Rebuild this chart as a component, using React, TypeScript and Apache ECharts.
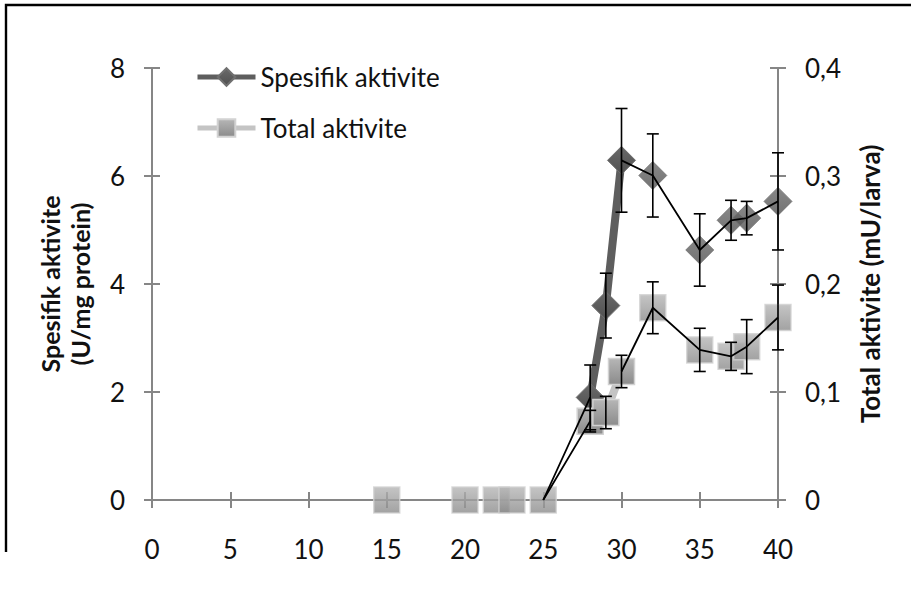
import React, { useEffect, useRef } from "react";
import * as echarts from "echarts";

const spesifikX = [25, 28, 29, 30, 32, 35, 37, 38, 40];
const spesifikY = [0, 1.9, 3.6, 6.29, 6.01, 4.63, 5.18, 5.22, 5.53];
const spesifikErr = [0, 0.6, 0.6, 0.96, 0.77, 0.67, 0.37, 0.31, 0.9];

const totalX = [15, 20, 22, 23, 25, 28, 29, 30, 32, 35, 37, 38, 40];
const totalY = [0, 0, 0, 0, 0, 0.073, 0.081, 0.119, 0.178, 0.139, 0.133, 0.142, 0.169];
const totalErr = [0, 0, 0, 0, 0, 0.01, 0.015, 0.015, 0.024, 0.02, 0.013, 0.025, 0.03];

const xTicks = [0, 5, 10, 15, 20, 25, 30, 35, 40];
const leftTicks = [0, 2, 4, 6, 8];
const rightTicks = [0, 0.1, 0.2, 0.3, 0.4];

// x range on which the thick series line is drawn
const thickFrom = 28;
const thickTo = 30;

const FONT = "Lato";
const AXIS_COLOR = "#868686";
const SP_LINE = "#5e5e5e";
const TT_LINE = "#c4c4c4";

function pairs(xs: number[], ys: number[]) {
  return xs.map((x, i) => [x, ys[i]]);
}

export default function App() {
  const ref = useRef<HTMLDivElement>(null);

  useEffect(() => {
    if (!ref.current) return;
    const chart = echarts.init(ref.current, undefined, { renderer: "svg" });

    const sp = pairs(spesifikX, spesifikY);
    const tt = pairs(totalX, totalY);
    const inThick = (p: number[]) => p[0] >= thickFrom && p[0] <= thickTo;
    const spThick = sp.filter(inThick);
    // zero-valued diamonds sit hidden beneath the squares
    const spOther = sp.filter((p) => !inThick(p) && p[1] > 0);
    const ttThick = tt.filter(inThick);
    const ttOther = tt.filter((p) => !inThick(p));
    // thin black connecting lines: break inside the thick segment
    const thin = (arr: number[][]) =>
      arr
        .filter((p) => p[0] >= 25)
        .map((p) => (p[0] > thickFrom && p[0] < thickTo ? [p[0], "-"] : p));

    const spErrData = spesifikX
      .map((x, i) => [x, spesifikY[i], spesifikErr[i]])
      .filter((d) => d[2] > 0);
    const ttErrData = totalX
      .map((x, i) => [x, totalY[i], totalErr[i]])
      .filter((d) => d[2] > 0);

    const errRender = (params: any, api: any) => {
      const x = api.value(0);
      const y = api.value(1);
      const e = api.value(2);
      const top = api.coord([x, y + e]);
      const bot = api.coord([x, y - e]);
      const w = 6;
      const st = { stroke: "#000", lineWidth: 1.6 };
      return {
        type: "group",
        children: [
          { type: "line", shape: { x1: top[0], y1: top[1], x2: bot[0], y2: bot[1] }, style: st },
          { type: "line", shape: { x1: top[0] - w, y1: top[1], x2: top[0] + w, y2: top[1] }, style: st },
          { type: "line", shape: { x1: bot[0] - w, y1: bot[1], x2: bot[0] + w, y2: bot[1] }, style: st },
        ],
      };
    };

    const diamondStyle = {
      color: new echarts.graphic.LinearGradient(0, 0, 0, 1, [
        { offset: 0, color: "#6a6a6a" },
        { offset: 1, color: "#505050" },
      ]),
      borderColor: "#707070",
      borderWidth: 1,
    };
    const squareStyle = {
      color: new echarts.graphic.LinearGradient(0, 0, 0, 1, [
        { offset: 0, color: "#b6b6b6" },
        { offset: 1, color: "#8b8b8b" },
      ]),
      borderColor: "#d2d2d2",
      borderWidth: 1.5,
    };

    const axisLabel = { color: "#111", fontSize: 26, fontFamily: FONT };
    const lineSt = { color: AXIS_COLOR, width: 2 };
    const nameStyle = { fontSize: 25, fontWeight: "bold", color: "#111", fontFamily: FONT };

    chart.setOption({
      animation: false,
      backgroundColor: "#fff",
      textStyle: { fontFamily: FONT },
      grid: { left: 152, right: 133, top: 68, bottom: 100 },
      legend: {
        data: [
          { name: "Spesifik aktivite", lineStyle: { width: 5, color: SP_LINE } },
          { name: "Total aktivite", lineStyle: { width: 5, color: TT_LINE } },
        ],
        orient: "vertical",
        left: 195,
        top: 64,
        padding: 0,
        itemWidth: 58,
        itemHeight: 22,
        itemGap: 25,
        textStyle: { fontSize: 26, color: "#111", fontFamily: FONT },
      },
      xAxis: [
        {
          type: "value",
          min: xTicks[0],
          max: xTicks[xTicks.length - 1],
          interval: xTicks[1] - xTicks[0],
          axisLine: { onZero: false, lineStyle: lineSt },
          axisTick: { show: true, length: 8, lineStyle: lineSt },
          axisLabel: { ...axisLabel, margin: 36 },
          splitLine: { show: false },
        },
        {
          type: "value",
          position: "bottom",
          min: xTicks[0],
          max: xTicks[xTicks.length - 1],
          interval: xTicks[1] - xTicks[0],
          axisLine: { show: false, onZero: false },
          axisTick: { show: true, inside: true, length: 8, lineStyle: lineSt },
          axisLabel: { show: false },
          splitLine: { show: false },
        },
      ],
      yAxis: [
        {
          type: "value",
          position: "left",
          min: leftTicks[0],
          max: leftTicks[leftTicks.length - 1],
          interval: leftTicks[1] - leftTicks[0],
          axisLine: { show: true, onZero: false, lineStyle: lineSt },
          axisTick: { show: true, length: 8, lineStyle: lineSt },
          axisLabel: { ...axisLabel, margin: 27 },
          splitLine: { show: false },
          name: "Spesifik aktivite\n(U/mg protein)",
          nameLocation: "middle",
          nameRotate: 90,
          nameGap: 57,
          nameTextStyle: { ...nameStyle, lineHeight: 30 },
        },
        {
          type: "value",
          position: "right",
          min: rightTicks[0],
          max: rightTicks[rightTicks.length - 1],
          interval: rightTicks[1] - rightTicks[0],
          axisLine: { show: true, onZero: false, lineStyle: lineSt },
          axisTick: { show: true, length: 8, lineStyle: lineSt },
          axisLabel: {
            ...axisLabel,
            margin: 27,
            formatter: (v: number) => (v === 0 ? "0" : v.toFixed(1).replace(".", ",")),
          },
          splitLine: { show: false },
          name: "Total aktivite (mU/larva)",
          nameLocation: "middle",
          nameRotate: 90,
          nameGap: 78,
          nameTextStyle: { ...nameStyle, fontSize: 26, lineHeight: 28 },
        },
        {
          type: "value",
          position: "left",
          min: leftTicks[0],
          max: leftTicks[leftTicks.length - 1],
          interval: leftTicks[1] - leftTicks[0],
          axisLine: { show: false, onZero: false },
          axisTick: { show: true, inside: true, length: 8, lineStyle: lineSt },
          axisLabel: { show: false },
          splitLine: { show: false },
        },
        {
          type: "value",
          position: "right",
          min: rightTicks[0],
          max: rightTicks[rightTicks.length - 1],
          interval: rightTicks[1] - rightTicks[0],
          axisLine: { show: false, onZero: false },
          axisTick: { show: true, inside: true, length: 8, lineStyle: lineSt },
          axisLabel: { show: false },
          splitLine: { show: false },
        },
      ],
      series: [
        {
          name: "Spesifik aktivite",
          type: "line",
          yAxisIndex: 0,
          data: spThick,
          lineStyle: { color: SP_LINE, width: 8 },
          symbol: "diamond",
          symbolSize: 28,
          itemStyle: diamondStyle,
          z: 2,
        },
        {
          name: "sp-points",
          type: "scatter",
          yAxisIndex: 0,
          data: spOther,
          symbol: "diamond",
          symbolSize: 28,
          itemStyle: diamondStyle,
          z: 2,
        },
        {
          name: "Total aktivite",
          type: "line",
          yAxisIndex: 1,
          data: ttThick,
          lineStyle: { color: TT_LINE, width: 8 },
          symbol: "rect",
          symbolSize: 26,
          itemStyle: squareStyle,
          z: 3,
        },
        {
          name: "tt-points",
          type: "scatter",
          yAxisIndex: 1,
          data: ttOther,
          symbol: "rect",
          symbolSize: 26,
          itemStyle: squareStyle,
          z: 3,
        },
        {
          name: "sp-thin",
          type: "line",
          yAxisIndex: 0,
          data: thin(sp),
          symbol: "none",
          connectNulls: false,
          lineStyle: { color: "#000", width: 1.8 },
          z: 4,
        },
        {
          name: "tt-thin",
          type: "line",
          yAxisIndex: 1,
          data: thin(tt),
          symbol: "none",
          connectNulls: false,
          lineStyle: { color: "#000", width: 1.8 },
          z: 4,
        },
        {
          name: "sp-err",
          type: "custom",
          yAxisIndex: 0,
          data: spErrData,
          renderItem: errRender,
          z: 5,
        },
        {
          name: "tt-err",
          type: "custom",
          yAxisIndex: 1,
          data: ttErrData,
          renderItem: errRender,
          z: 5,
        },
      ],
      graphic: [
        {
          type: "polyline",
          shape: { points: [[6, 552], [6, 5], [911, 5]] },
          style: { stroke: "#000", lineWidth: 2.4, fill: "none" },
          silent: true,
        },
      ],
    });

    return () => chart.dispose();
  }, []);

  return <div ref={ref} style={{ width: 911, height: 600, position: "absolute", left: 0, top: 0 }} />;
}
